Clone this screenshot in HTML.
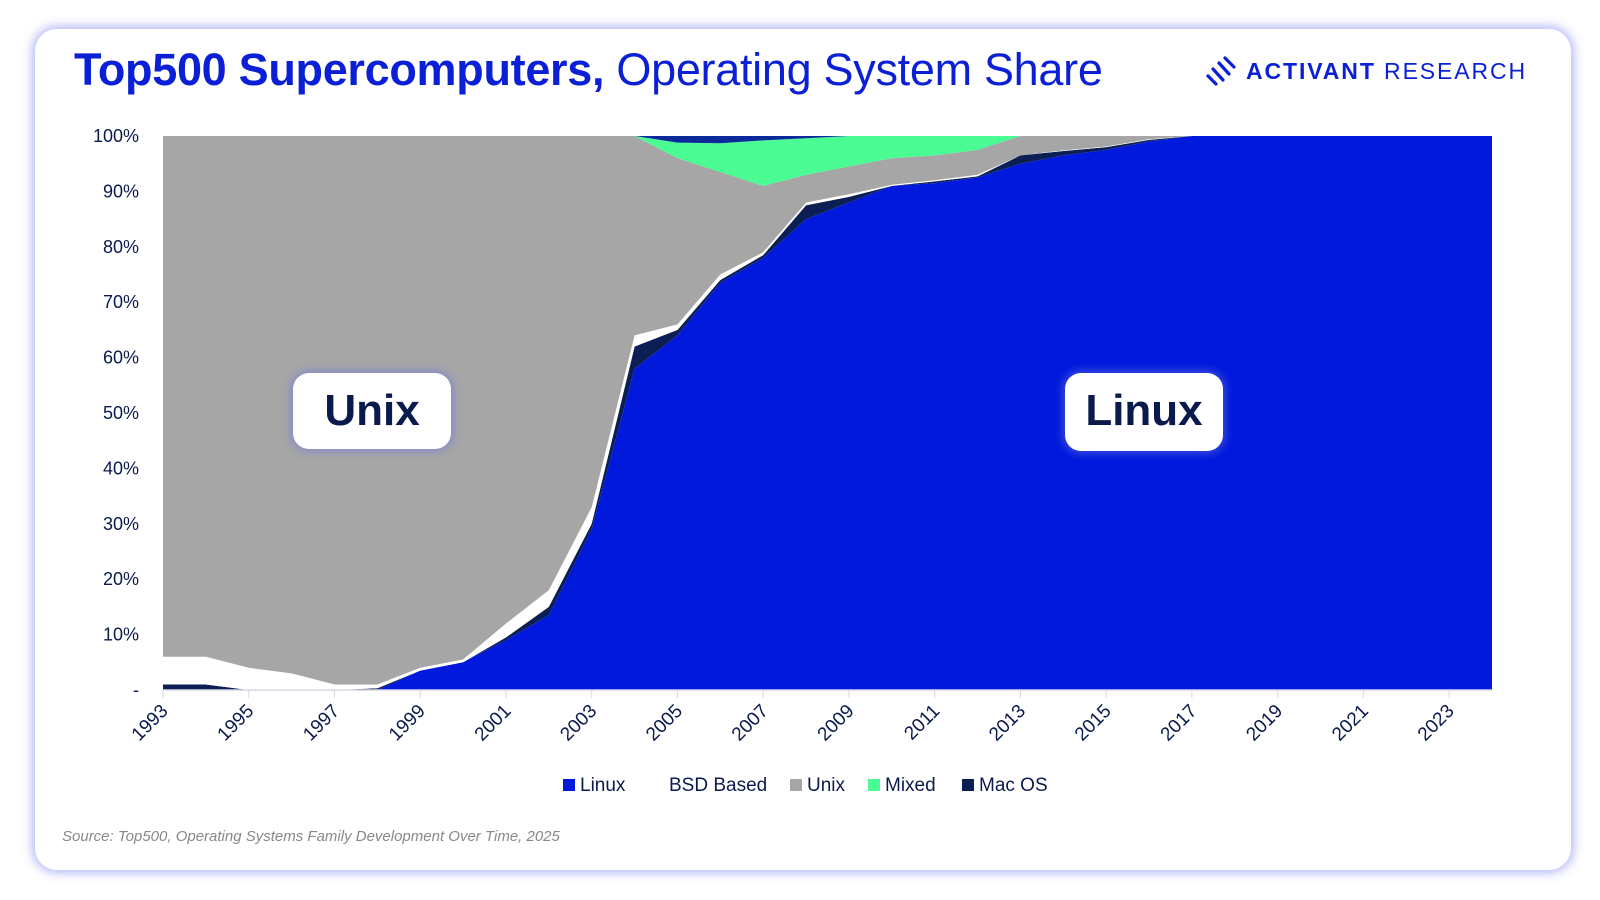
<!DOCTYPE html>
<html><head><meta charset="utf-8">
<style>
html,body{margin:0;padding:0;background:#fff;width:1600px;height:900px;overflow:hidden;font-family:"Liberation Sans",Arial,sans-serif;}
.card{position:absolute;left:35px;top:29px;width:1536px;height:841px;border-radius:22px;background:#fff;box-shadow:0 0 10px 3px rgba(120,130,240,0.55);}
.title{position:absolute;left:74px;top:44px;font-size:45px;color:#0a1fd6;letter-spacing:-0.3px;white-space:nowrap;}
.title b{font-weight:bold;}
.logo{position:absolute;left:1246px;top:58px;font-size:23px;color:#0a1fd6;letter-spacing:1.9px;white-space:nowrap;}
.lab{position:absolute;background:#fff;border-radius:16px;box-shadow:0 0 8px 3px rgba(110,120,230,0.5);font-weight:bold;font-size:44px;color:#0b1a4d;text-align:center;line-height:76px;}
.src{position:absolute;left:62px;top:828px;font-size:15px;font-style:italic;color:#888;}
</style></head><body>
<div class="card"></div>
<div class="title"><b>Top500 Supercomputers,</b> Operating System Share</div>
<svg style="position:absolute;left:1205px;top:56px" width="36" height="32" viewBox="0 0 36 32">
<g stroke="#0a1fd6" stroke-width="3.2" stroke-linecap="round">
<line x1="3" y1="20" x2="11" y2="28"/><line x1="8" y1="13" x2="18" y2="24"/><line x1="14" y1="7" x2="24" y2="18"/><line x1="20" y1="2" x2="29" y2="11"/>
</g></svg>
<div class="logo"><b>ACTIVANT</b> RESEARCH</div>
<svg id="ch" xmlns="http://www.w3.org/2000/svg" style="position:absolute;left:0;top:0" width="1600" height="900"></svg>
<div class="lab" style="left:293px;top:373px;width:158px;height:76px;">Unix</div>
<div class="lab" style="left:1065px;top:373px;width:158px;height:78px;">Linux</div>
<div class="src">Source: Top500, Operating Systems Family Development Over Time, 2025</div>
<script>
(function(){
var L=163,R=1492,T=136,B=690,n=31,dx=(R-L)/n;
function X(i){return L+i*dx}function Y(v){return B-v*(B-T)/100}
var linux=[0,0,0,0,0,0,3.5,5,9,13.5,29,58,64,73.5,78,85,88,91,91.5,92.5,95,96.5,97.5,99,100];
var navy=[1,1,0,0,0,0.3,3.5,5,9.5,15,30,62,65,74,78.5,87.5,89,91,91.8,92.7,96.5,97.3,98,99.3,100];
var bsd=[6,6,4,3,1,1,4,5.5,12,18,33,64,66,75,79,88,89.5,91.2,92,93,96.5,97.4,98.1,99.4,100];
var unix=[100,100,100,100,100,100,100,100,100,100,100,100,96,93.5,91,93,94.5,96,96.5,97.5,100,100,100,100,100];
var mixed=[100,100,100,100,100,100,100,100,100,100,100,100,98.8,98.7,99.2,99.6,100,100,100,100,100,100,100,100,100];
function ext(a){a=a.slice();while(a.length<32)a.push(a[a.length-1]);return a}
linux=ext(linux);navy=ext(navy);bsd=ext(bsd);unix=ext(unix);mixed=ext(mixed);
var full=[];for(var i=0;i<32;i++)full.push(100);
function band(lo,hi,c){var p=[];for(var i=0;i<32;i++)p.push(X(i).toFixed(1)+','+Y(hi[i]).toFixed(1));for(var j=31;j>=0;j--)p.push(X(j).toFixed(1)+','+Y(lo?lo[j]:0).toFixed(1));return '<polygon points="'+p.join(' ')+'" fill="'+c+'"/>'}
var s='';
s+=band(null,linux,'#0019dc');
s+=band(linux,navy,'#0b1f55');
s+=band(navy,bsd,'#ffffff');
s+=band(bsd,unix,'#a6a6a6');
s+=band(unix,mixed,'#4afc93');
s+=band(mixed,full,'#0a2a9a');
s+='<line x1="'+L+'" y1="'+B+'" x2="'+R+'" y2="'+B+'" stroke="#d8d8e4" stroke-width="1.5"/>';
var labs=['-','10%','20%','30%','40%','50%','60%','70%','80%','90%','100%'];
for(var k=0;k<=10;k++){s+='<text x="139" y="'+(Y(k*10)+6)+'" text-anchor="end" font-size="18" fill="#0b1a4d" font-family="Liberation Sans, sans-serif">'+labs[k]+'</text>';}
for(var i2=0;i2<=n;i2+=2){var x=X(i2);s+='<line x1="'+x+'" y1="'+B+'" x2="'+x+'" y2="'+(B+8)+'" stroke="#d8d8e4"/>';
s+='<text transform="translate('+(x+6)+','+(B+22)+') rotate(-45)" text-anchor="end" font-size="19" fill="#0b1a4d" font-family="Liberation Sans, sans-serif">'+(1993+i2)+'</text>';}
var lg=[['#0019dc','Linux',563],[null,'BSD Based',652],['#a6a6a6','Unix',790],['#4afc93','Mixed',868],['#0b1f55','Mac OS',962]];
lg.forEach(function(g){if(g[0])s+='<rect x="'+g[2]+'" y="779" width="12" height="12" fill="'+g[0]+'"/>';s+='<text x="'+(g[2]+17)+'" y="791" font-size="19" fill="#0b1a4d" font-family="Liberation Sans, sans-serif">'+g[1]+'</text>';});
document.getElementById('ch').innerHTML=s;
})();
</script>
</body></html>
